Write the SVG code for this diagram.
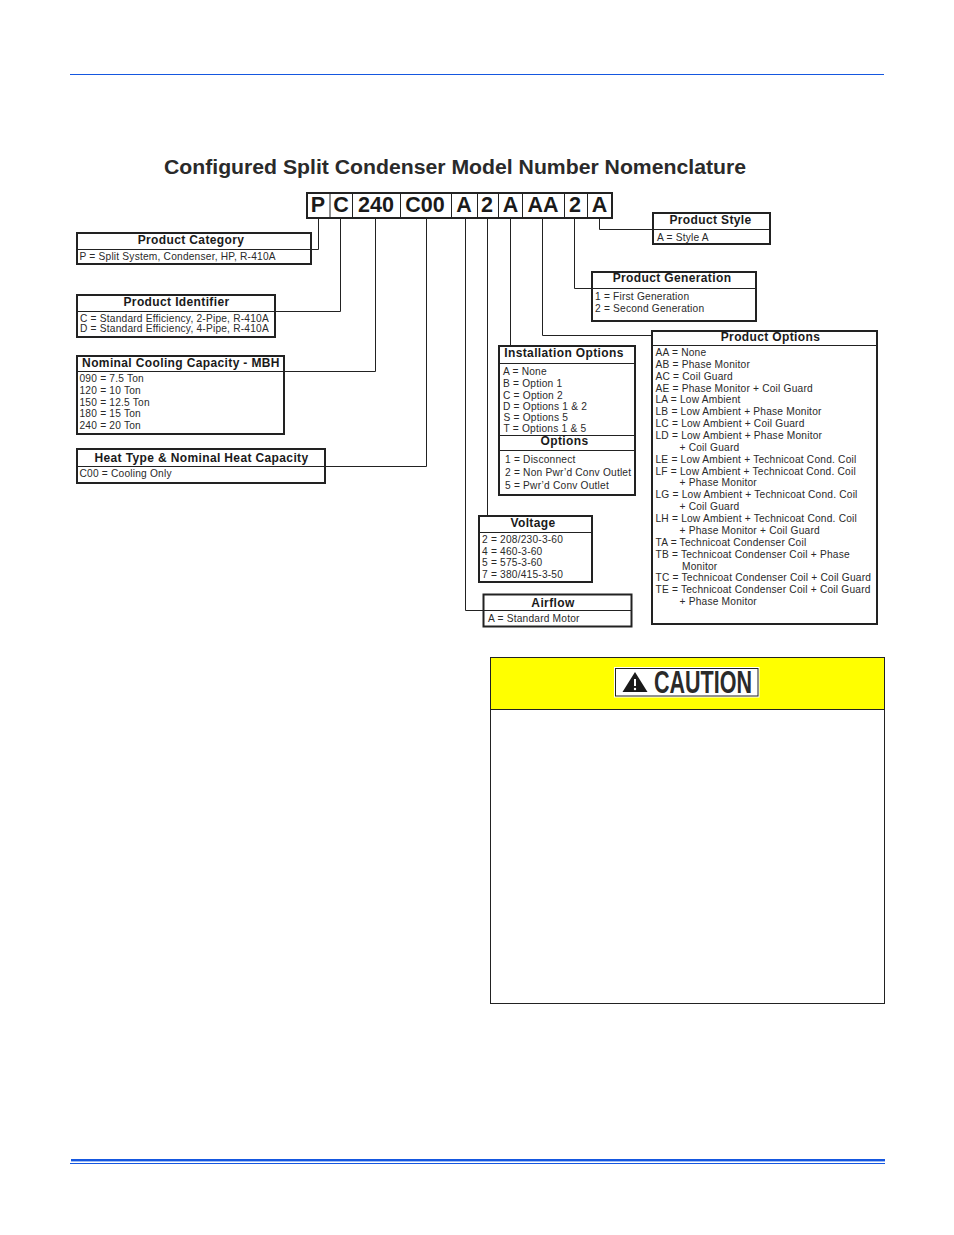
<svg xmlns="http://www.w3.org/2000/svg" width="954" height="1235" viewBox="0 0 954 1235">
<style>
text{font-family:"Liberation Sans",Arial,sans-serif;fill:#2a2a2a}
.h{font-size:12px;letter-spacing:.37px;font-weight:bold;text-anchor:middle;fill:#1a1a1a}
.t{font-size:10.2px;letter-spacing:.2px}
.c{font-size:21.5px;font-weight:bold;text-anchor:middle;fill:#1a1a1a}
.b{fill:#fff;stroke:#222;stroke-width:2}
.d{stroke:#222;stroke-width:1;fill:none}
.k{stroke:#222;stroke-width:1;fill:none}
</style>
<rect width="954" height="1235" fill="#fff"/>
<g id="page-rules">
<rect x="70" y="74" width="814" height="1" fill="#1557e0"/>
<rect x="71" y="1159" width="814" height="2.4" fill="#1557e0"/>
<rect x="70" y="1163" width="815" height="1" fill="#1557e0"/>
</g>
<text id="title" x="164" y="174" font-size="19.5" font-weight="bold" fill="#222" textLength="582" lengthAdjust="spacingAndGlyphs">Configured Split Condenser Model Number Nomenclature</text>
<g id="connectors" class="k">
<path class="k" d="M318.5 218V249.5H311"/>
<path class="k" d="M340.5 218V311.5H275"/>
<path class="k" d="M375.5 218V371.5H284"/>
<path class="k" d="M426.5 218V466.5H325"/>
<path class="k" d="M465.5 218V610.5H483"/>
<path class="k" d="M487.5 218V516"/>
<path class="k" d="M510.5 218V346"/>
<path class="k" d="M542.5 218V335.5H652"/>
<path class="k" d="M574.5 218V288.5H592"/>
<path class="k" d="M599.5 218V229.5H653"/>
</g>
<g id="model-code">
<rect class="b" x="307" y="193" width="305" height="25"/>
<path class="d" d="M330 193V218M352.5 193V218M400.5 193V218M451.5 193V218M477.5 193V218M498.5 193V218M522.5 193V218M564.5 193V218M587.5 193V218"/>
<text class="c" x="318" y="212">P</text>
<text class="c" x="341" y="212">C</text>
<text class="c" x="376" y="212">240</text>
<text class="c" x="425" y="212">C00</text>
<text class="c" x="464" y="212">A</text>
<text class="c" x="487" y="212">2</text>
<text class="c" x="510.5" y="212">A</text>
<text class="c" x="543" y="212">AA</text>
<text class="c" x="575" y="212">2</text>
<text class="c" x="599.5" y="212">A</text>
</g>
<g id="product-category">
<rect class="b" x="77" y="233" width="234" height="31"/>
<path class="d" d="M77 249.5H311"/>
<text class="h" x="191" y="244">Product Category</text>
<text class="t" x="79.5" y="260">P = Split System, Condenser, HP, R-410A</text>
</g>
<g id="product-identifier">
<rect class="b" x="77" y="295" width="198" height="42"/>
<path class="d" d="M77 311.5H275"/>
<text class="h" x="176.5" y="306">Product Identifier</text>
<text class="t" x="80" y="322">C = Standard Efficiency, 2-Pipe, R-410A</text>
<text class="t" x="80" y="332">D = Standard Efficiency, 4-Pipe, R-410A</text>
</g>
<g id="nominal-cooling-capacity">
<rect class="b" x="77" y="356" width="207" height="78"/>
<path class="d" d="M77 371.5H284"/>
<text class="h" x="181" y="367">Nominal Cooling Capacity - MBH</text>
<text class="t" x="79.5" y="382">090 = 7.5 Ton</text>
<text class="t" x="79.5" y="394">120 = 10 Ton</text>
<text class="t" x="79.5" y="406">150 = 12.5 Ton</text>
<text class="t" x="79.5" y="417">180 = 15 Ton</text>
<text class="t" x="79.5" y="429">240 = 20 Ton</text>
</g>
<g id="heat-type">
<rect class="b" x="77" y="449" width="248" height="34"/>
<path class="d" d="M77 466.5H325"/>
<text class="h" x="201.5" y="462">Heat Type &amp; Nominal Heat Capacity</text>
<text class="t" x="79.5" y="477">C00 = Cooling Only</text>
</g>
<g id="product-style">
<rect class="b" x="653" y="213" width="117" height="31"/>
<path class="d" d="M653 229.5H770"/>
<text class="h" x="710.5" y="224">Product Style</text>
<text class="t" x="657" y="240.5">A = Style A</text>
</g>
<g id="product-generation">
<rect class="b" x="592" y="272" width="164" height="49"/>
<path class="d" d="M592 288.5H756"/>
<text class="h" x="672" y="282">Product Generation</text>
<text class="t" x="595" y="300">1 = First Generation</text>
<text class="t" x="595" y="312">2 = Second Generation</text>
</g>
<g id="product-options">
<rect class="b" x="652" y="331" width="225" height="293"/>
<path class="d" d="M652 345.5H877"/>
<text class="h" x="770.5" y="341">Product Options</text>
<text class="t" x="655.5" y="356">AA = None</text>
<text class="t" x="655.5" y="368">AB = Phase Monitor</text>
<text class="t" x="655.5" y="380">AC = Coil Guard</text>
<text class="t" x="655.5" y="391.5">AE = Phase Monitor + Coil Guard</text>
<text class="t" x="655.5" y="403">LA = Low Ambient</text>
<text class="t" x="655.5" y="415">LB = Low Ambient + Phase Monitor</text>
<text class="t" x="655.5" y="427">LC = Low Ambient + Coil Guard</text>
<text class="t" x="655.5" y="439">LD = Low Ambient + Phase Monitor</text>
<text class="t" x="679.5" y="451">+ Coil Guard</text>
<text class="t" x="655.5" y="463">LE = Low Ambient + Technicoat Cond. Coil</text>
<text class="t" x="655.5" y="475">LF = Low Ambient + Technicoat Cond. Coil</text>
<text class="t" x="679.5" y="486">+ Phase Monitor</text>
<text class="t" x="655.5" y="498">LG = Low Ambient + Technicoat Cond. Coil</text>
<text class="t" x="679.5" y="510">+ Coil Guard</text>
<text class="t" x="655.5" y="522">LH = Low Ambient + Technicoat Cond. Coil</text>
<text class="t" x="679.5" y="534">+ Phase Monitor + Coil Guard</text>
<text class="t" x="655.5" y="546">TA = Technicoat Condenser Coil</text>
<text class="t" x="655.5" y="558">TB = Technicoat Condenser Coil + Phase</text>
<text class="t" x="682" y="569.5">Monitor</text>
<text class="t" x="655.5" y="581">TC = Technicoat Condenser Coil + Coil Guard</text>
<text class="t" x="655.5" y="593">TE = Technicoat Condenser Coil + Coil Guard</text>
<text class="t" x="679.5" y="605">+ Phase Monitor</text>
</g>
<g id="installation-options">
<rect class="b" x="499" y="346" width="136" height="149"/>
<path class="d" d="M499 363.5H635M499 435.5H635M499 450.5H635"/>
<text class="h" x="564" y="357">Installation Options</text>
<text class="t" x="503" y="375">A = None</text>
<text class="t" x="503" y="387">B = Option 1</text>
<text class="t" x="503" y="399">C = Option 2</text>
<text class="t" x="503" y="410">D = Options 1 &amp; 2</text>
<text class="t" x="503.5" y="421">S = Options 5</text>
<text class="t" x="503.5" y="432">T = Options 1 &amp; 5</text>
<text class="h" x="564.5" y="445">Options</text>
<text class="t" x="505" y="463">1 = Disconnect</text>
<text class="t" x="505" y="476">2 = Non Pwr’d Conv Outlet</text>
<text class="t" x="505" y="489">5 = Pwr’d Conv Outlet</text>
</g>
<g id="voltage">
<rect class="b" x="479" y="516" width="113" height="66"/>
<path class="d" d="M479 532.5H592"/>
<text class="h" x="533" y="527">Voltage</text>
<text class="t" x="482" y="543">2 = 208/230-3-60</text>
<text class="t" x="482" y="554.5">4 = 460-3-60</text>
<text class="t" x="482" y="566">5 = 575-3-60</text>
<text class="t" x="482" y="578">7 = 380/415-3-50</text>
</g>
<g id="airflow">
<rect class="b" x="483.5" y="594.5" width="148" height="32"/>
<path class="d" d="M483 610.5H632"/>
<text class="h" x="553" y="607">Airflow</text>
<text class="t" x="488" y="621.5">A = Standard Motor</text>
</g>
<g id="caution">
<rect x="490.5" y="657.5" width="394" height="346" fill="#fff" stroke="#222"/>
<rect x="491" y="658" width="393" height="51.5" fill="#ff0"/>
<path class="d" d="M490.5 709.5H884.5"/>
<rect x="614" y="667" width="145.5" height="30.5" fill="#fff"/>
<rect x="615.5" y="668.5" width="142.5" height="27.5" fill="none" stroke="#222" stroke-width="1"/>
<path d="M635 672L647.5 692H622.5Z" fill="#1a1a1a"/>
<path d="M635 679V686" stroke="#fff" stroke-width="2"/>
<circle cx="635" cy="689" r="1.2" fill="#fff"/>
<text x="654" y="692.5" font-size="30.5" font-weight="bold" textLength="98" lengthAdjust="spacingAndGlyphs" fill="#1a1a1a">CAUTION</text>
</g>
</svg>
